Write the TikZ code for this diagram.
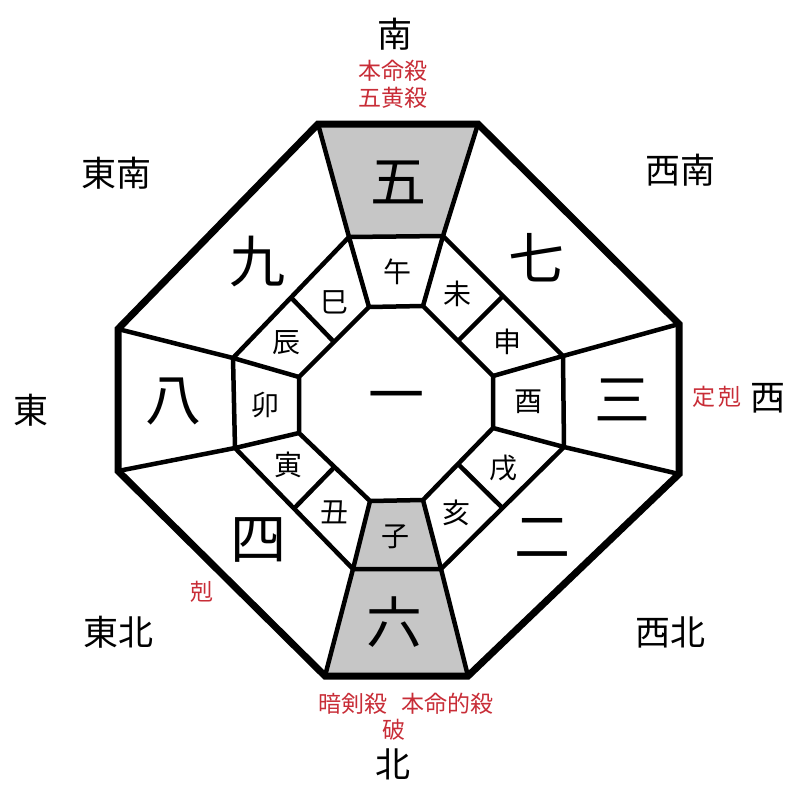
\documentclass[tikz,border=0pt]{standalone}
\usepackage{fontspec}
\newfontfamily\cjk{Noto Sans CJK JP}
\usetikzlibrary{calc}
\definecolor{redc}{RGB}{200,45,55}
\definecolor{grayc}{RGB}{198,198,198}
\tikzset{
  bignum/.style={font=\cjk\fontsize{56}{58}\selectfont, inner sep=0pt},
  branch/.style={font=\cjk\fontsize{28}{30}\selectfont, inner sep=0pt},
  dirlabel/.style={font=\cjk\fontsize{35}{37}\selectfont, inner sep=0pt},
  redlabel/.style={font=\cjk\fontsize{23}{25}\selectfont, inner sep=0pt, text=redc},
  outerline/.style={line width=7pt, line join=miter},
  innerline/.style={line width=4.5pt, line join=miter},
  shade/.style={fill=grayc}
}
\begin{document}
\begin{tikzpicture}[x=1pt,y=-1pt]
\useasboundingbox (0,0) rectangle (800,800);
% outer octagon
\coordinate (O1) at (318,124); \coordinate (O2) at (478,124);
\coordinate (O3) at (679,324); \coordinate (O4) at (679,474);
\coordinate (O5) at (468,676); \coordinate (O6) at (325,676);
\coordinate (O7) at (118,471); \coordinate (O8) at (118,329);
% middle octagon
\coordinate (M1) at (349,237); \coordinate (M2) at (443,236);
\coordinate (M3) at (563,356); \coordinate (M4) at (564,447);
\coordinate (M5) at (441,569); \coordinate (M6) at (353,569);
\coordinate (M7) at (235,448); \coordinate (M8) at (233,358);
% inner octagon
\coordinate (I1) at (369,307); \coordinate (I2) at (423,306);
\coordinate (I3) at (493,376); \coordinate (I4) at (493,428);
\coordinate (I5) at (423,500); \coordinate (I6) at (370,501);
\coordinate (I7) at (299,433); \coordinate (I8) at (299,377);
% gray regions
\fill[shade] (O1) -- (O2) -- (M2) -- (M1) -- cycle;
\fill[shade] (I6) -- (I5) -- (M5) -- (M6) -- cycle;
\fill[shade] (M6) -- (M5) -- (O5) -- (O6) -- cycle;
% middle and inner octagons
\draw[innerline] (M1) -- (M2) -- (M3) -- (M4) -- (M5) -- (M6) -- (M7) -- (M8) -- cycle;
\draw[innerline] (I1) -- (I2) -- (I3) -- (I4) -- (I5) -- (I6) -- (I7) -- (I8) -- cycle;
% spokes
\foreach \k in {1,...,8} {
  \draw[innerline] (I\k) -- (M\k);
  \draw[innerline] (M\k) -- (O\k);
}
% diagonal dividers in branch ring
\draw[innerline] ($(I8)!0.5!(I1)$) -- ($(M8)!0.5!(M1)$);
\draw[innerline] ($(I2)!0.5!(I3)$) -- ($(M2)!0.5!(M3)$);
\draw[innerline] ($(I4)!0.5!(I5)$) -- ($(M4)!0.5!(M5)$);
\draw[innerline] ($(I6)!0.5!(I7)$) -- ($(M6)!0.5!(M7)$);
% outer octagon
\draw[outerline] (O1) -- (O2) -- (O3) -- (O4) -- (O5) -- (O6) -- (O7) -- (O8) -- cycle;
% big numbers
\node[bignum] (n5) at (398,182) {五};
\node[bignum] (n7) at (536,258) {七};
\node[bignum] (n3) at (622,400) {三};
\node[bignum] (n2) at (542,538) {二};
\node[bignum] (n6) at (394,622) {六};
\node[bignum] (n4) at (258,540) {四};
\node[bignum] (n8) at (173,402) {八};
\node[bignum] (n9) at (257,262) {九};
\node[bignum] (n1) at (396,403) {一};
% branches
\node[branch] (bwu)   at (397,272) {午};
\node[branch] (bwei)  at (457,294) {未};
\node[branch] (bshen) at (507,342) {申};
\node[branch] (byou)  at (528,402) {酉};
\node[branch] (bxu)   at (503,468) {戌};
\node[branch] (bhai)  at (456,513) {亥};
\node[branch] (bzi)   at (395,537) {子};
\node[branch] (bchou) at (334,512) {丑};
\node[branch] (byin)  at (288,465) {寅};
\node[branch] (bmao)  at (265,405) {卯};
\node[branch] (bchen) at (286,343) {辰};
\node[branch] (bsi)   at (334,302) {巳};
% directions
\node[dirlabel] (dS)  at (395,34) {南};
\node[dirlabel] (dN)  at (393,764) {北};
\node[dirlabel] (dE)  at (31,410) {東};
\node[dirlabel] (dW)  at (768,398) {西};
\node[dirlabel] (dSE) at (116,173) {東南};
\node[dirlabel] (dSW) at (680,170) {西南};
\node[dirlabel] (dNE) at (118,632) {東北};
\node[dirlabel] (dNW) at (670,632) {西北};
% red labels
\node[redlabel] (r1) at (393,71) {本命殺};
\node[redlabel] (r2) at (393,98) {五黄殺};
\node[redlabel] (r3) at (717,397) {定\hspace{0.15em}剋};
\node[redlabel] (r4) at (202,592) {剋};
\node[redlabel] (r5) at (406,704) {暗剣殺\hspace{0.6em}本命的殺};
\node[redlabel] (r6) at (394,730) {破};
\end{tikzpicture}
\end{document}
